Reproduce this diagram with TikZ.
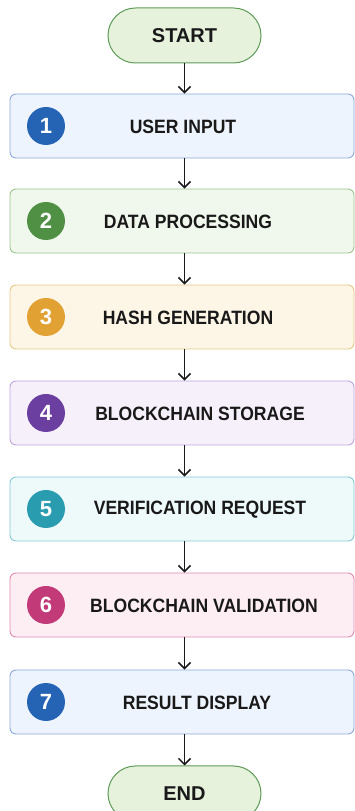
\documentclass[tikz,border=0pt]{standalone}
\usepackage{fontspec}
\usepackage{graphicx}
\setmainfont{Liberation Sans}
\usetikzlibrary{arrows.meta}
\definecolor{termfill}{HTML}{E6F2DC}\definecolor{termdraw}{HTML}{5E9B58}
\definecolor{bAf}{HTML}{EEF4FD}\definecolor{bAd}{HTML}{8AAAD8}\definecolor{bAc}{HTML}{2563B5}
\definecolor{bBf}{HTML}{F0F7EC}\definecolor{bBd}{HTML}{9CC58F}\definecolor{bBc}{HTML}{4F9045}
\definecolor{bCf}{HTML}{FDF6E6}\definecolor{bCd}{HTML}{E4C98A}\definecolor{bCc}{HTML}{E2A233}
\definecolor{bDf}{HTML}{F6F0FB}\definecolor{bDd}{HTML}{BFA6DC}\definecolor{bDc}{HTML}{6B3FA0}
\definecolor{bEf}{HTML}{EEF9FA}\definecolor{bEd}{HTML}{86C9D3}\definecolor{bEc}{HTML}{2A9CB0}
\definecolor{bFf}{HTML}{FDEEF4}\definecolor{bFd}{HTML}{E08AB0}\definecolor{bFc}{HTML}{C23A78}
\definecolor{arr}{HTML}{1A1A1A}
\newcommand{\cond}[1]{\scalebox{0.91}[1]{#1}}
\tikzset{
  term/.style={draw=termdraw,fill=termfill,line width=1pt,rounded corners=27.5pt,minimum width=153pt,minimum height=55pt,inner sep=0pt,font=\fontsize{20}{20}\selectfont\bfseries,text=black!90},
  stepbox/.style={rectangle,line width=0.9pt,rounded corners=6pt,minimum width=344pt,minimum height=64pt,inner sep=0pt},
  numc/.style={circle,minimum size=38pt,inner sep=0pt,text=white,font=\fontsize{22}{22}\selectfont\bfseries},
  lbl/.style={inner sep=0pt,text=black!90,font=\fontsize{19.3}{19.3}\selectfont\bfseries},
  flow/.style={draw=arr,line width=1.5pt,-{Straight Barb[length=6pt,width=12pt,line width=1.5pt]}}
}
\begin{document}
\begin{tikzpicture}[x=1pt,y=1pt]
\useasboundingbox (0,0) rectangle (355,811);
\clip (0,0) rectangle (355,811);
\node[term] (start) at (184.5,775.5) {START};
\node[stepbox,draw=bAd,fill=bAf] (s1) at (182,685) {};
\node[stepbox,draw=bBd,fill=bBf] (s2) at (182,590) {};
\node[stepbox,draw=bCd,fill=bCf] (s3) at (182,494) {};
\node[stepbox,draw=bDd,fill=bDf] (s4) at (182,398) {};
\node[stepbox,draw=bEd,fill=bEf] (s5) at (182,302) {};
\node[stepbox,draw=bFd,fill=bFf] (s6) at (182,206) {};
\node[stepbox,draw=bAd,fill=bAf] (s7) at (182,109) {};
\node[term] (end) at (184.5,17.5) {END};
\node[numc,fill=bAc] (c1) at (46,685) {1};
\node[numc,fill=bBc] (c2) at (46,590) {2};
\node[numc,fill=bCc] (c3) at (46,494) {3};
\node[numc,fill=bDc] (c4) at (46,398) {4};
\node[numc,fill=bEc] (c5) at (46,302) {5};
\node[numc,fill=bFc] (c6) at (46,206) {6};
\node[numc,fill=bAc] (c7) at (46,109) {7};
\node[lbl] (t1) at (183,684) {\cond{USER INPUT}};
\node[lbl] (t2) at (188,589) {\cond{DATA PROCESSING}};
\node[lbl] (t3) at (188,493) {\cond{HASH GENERATION}};
\node[lbl] (t4) at (200,397) {\cond{BLOCKCHAIN STORAGE}};
\node[lbl] (t5) at (200,301) {\cond{VERIFICATION REQUEST}};
\node[lbl] (t6) at (204,205) {\cond{BLOCKCHAIN VALIDATION}};
\node[lbl] (t7) at (197,108) {\cond{RESULT DISPLAY}};
\draw[flow] (start.south) -- (start.south |- s1.north);
\draw[flow] (s1.south -| start.south) -- (s2.north -| start.south);
\draw[flow] (s2.south -| start.south) -- (s3.north -| start.south);
\draw[flow] (s3.south -| start.south) -- (s4.north -| start.south);
\draw[flow] (s4.south -| start.south) -- (s5.north -| start.south);
\draw[flow] (s5.south -| start.south) -- (s6.north -| start.south);
\draw[flow] (s6.south -| start.south) -- (s7.north -| start.south);
\draw[flow] (s7.south -| start.south) -- (end.north);
\end{tikzpicture}
\end{document}
